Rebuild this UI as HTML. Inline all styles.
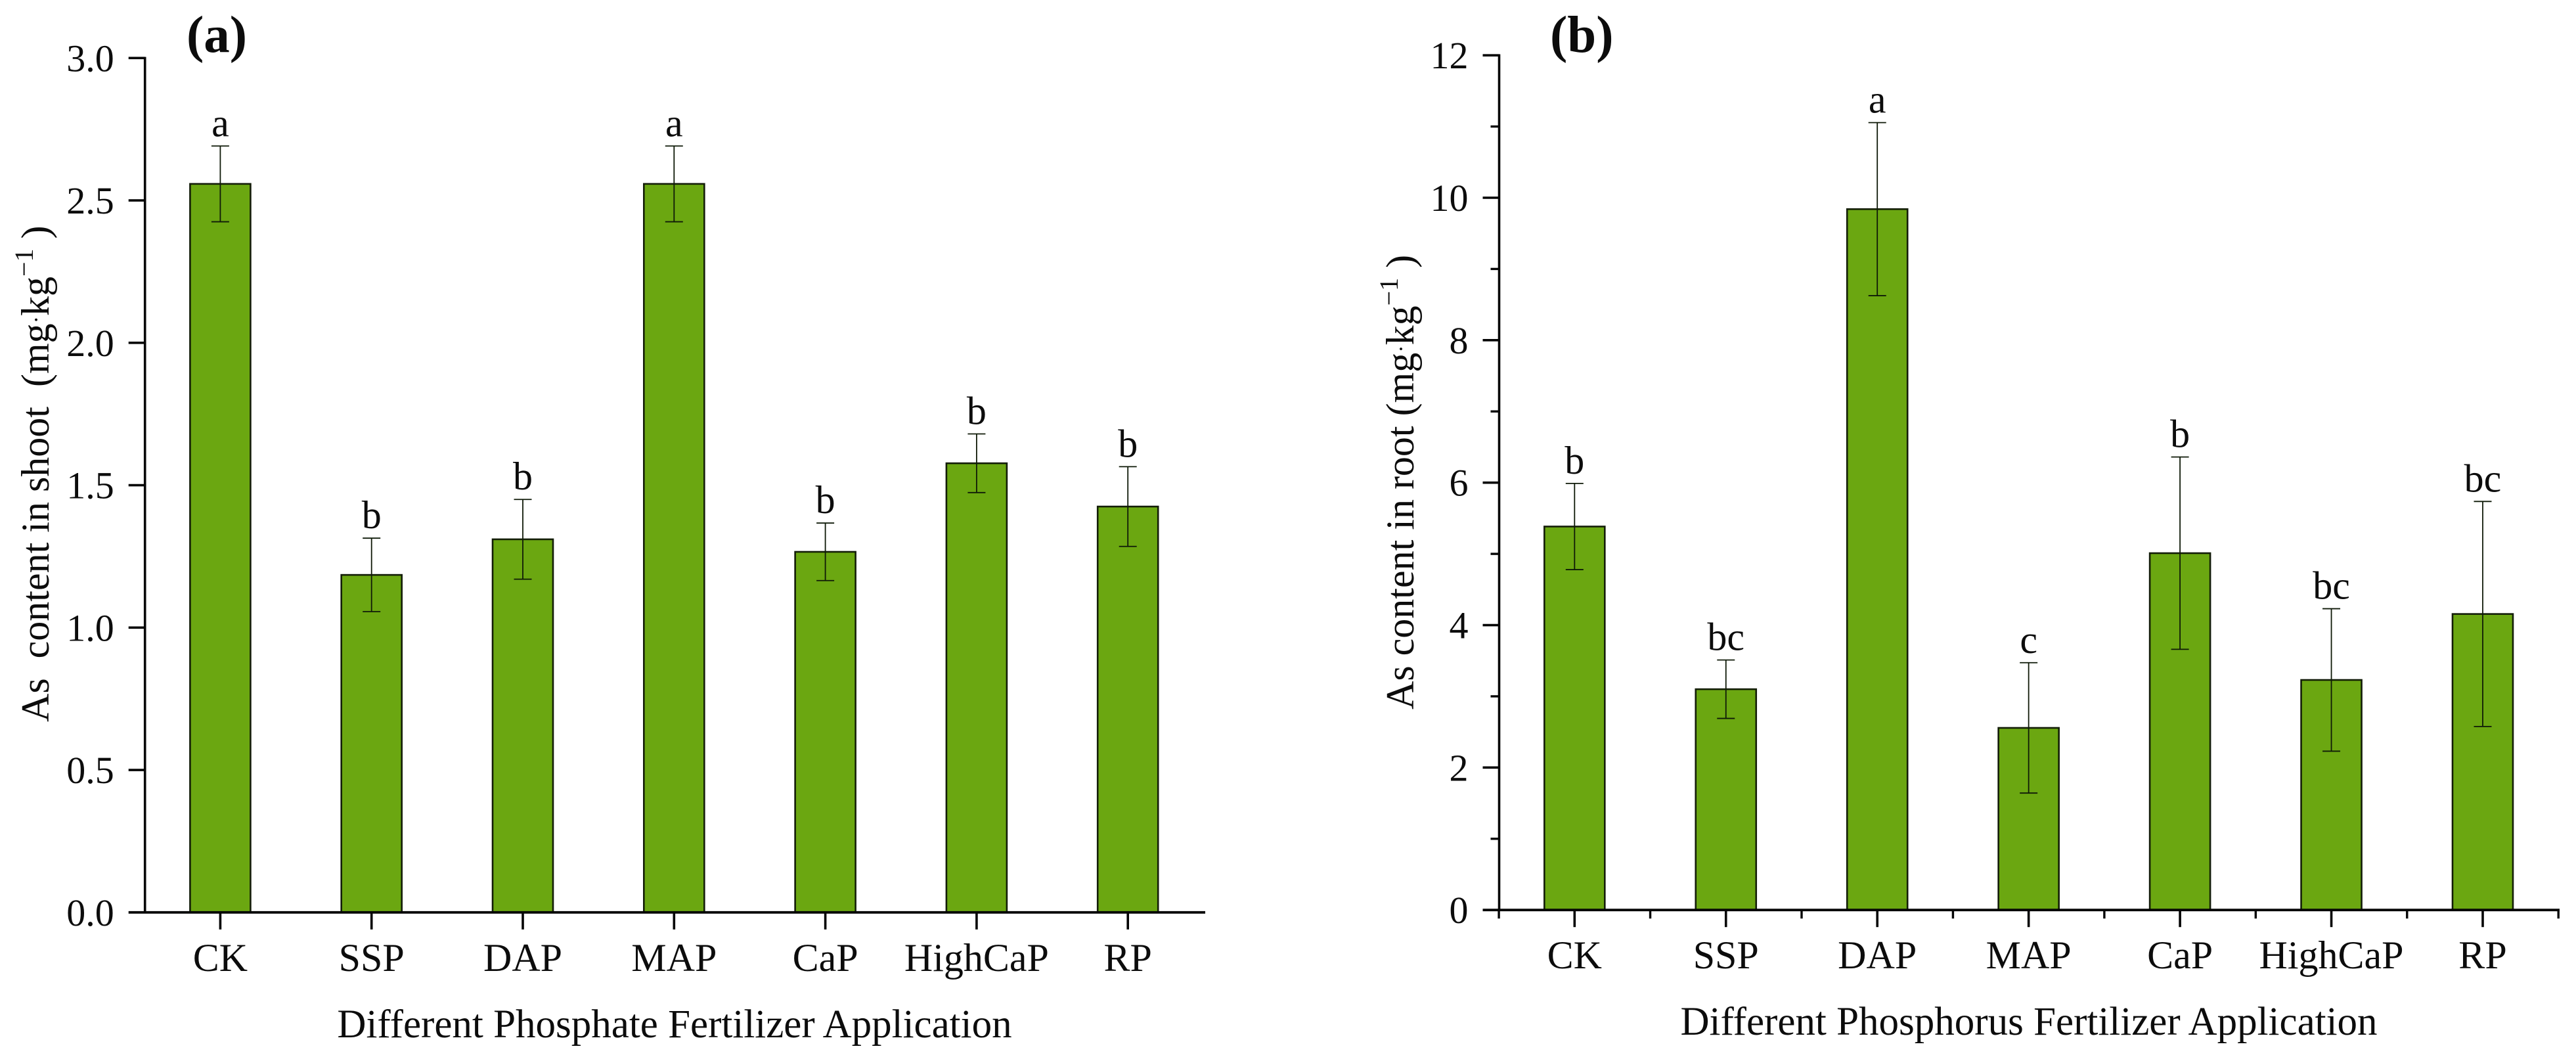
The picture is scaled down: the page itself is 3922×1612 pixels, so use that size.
<!DOCTYPE html>
<html lang="en">
<head>
<meta charset="utf-8">
<title>As content in shoot and root under phosphate fertilizer application</title>
<style>
html,body{margin:0;padding:0;background:#fff;}
svg{display:block;}
text{font-family:"Liberation Serif","Times New Roman",serif;fill:#0c0c0c;}
</style>
</head>
<body>
<svg id="figure" xmlns="http://www.w3.org/2000/svg" width="3922" height="1612" viewBox="0 0 3922 1612">
  <rect x="0" y="0" width="3922" height="1612" fill="#ffffff"/>
  <g id="panel-a">
    <text x="284" y="79" font-size="79" font-weight="bold">(a)</text>
    <text x="1027" y="1579" font-size="61" text-anchor="middle">Different Phosphate Fertilizer Application</text>
    <text transform="translate(74 1099) rotate(-90)" font-size="60" xml:space="preserve">As&#160;&#160;content in shoot&#160;&#160;(mg<tspan font-size="34" dy="-8">·</tspan><tspan dy="8">kg</tspan><tspan font-size="40" dy="-24">−1</tspan><tspan dy="24">&#160;)</tspan></text>
  </g>
  <g id="panel-b">
    <text x="2360" y="79" font-size="79" font-weight="bold">(b)</text>
    <text x="3089" y="1575" font-size="61" text-anchor="middle">Different Phosphorus Fertilizer Application</text>
    <text transform="translate(2152 1080) rotate(-90)" font-size="60" xml:space="preserve">As content in root (mg<tspan font-size="34" dy="-8">·</tspan><tspan dy="8">kg</tspan><tspan font-size="40" dy="-24">−1</tspan><tspan dy="24">&#160;)</tspan></text>
  </g>
</svg>
<script>
const categories = ['CK', 'SSP', 'DAP', 'MAP', 'CaP', 'HighCaP', 'RP'];
const shootValues = [2.558, 1.185, 1.31, 2.558, 1.266, 1.577, 1.425];
const shootErrors = [0.133, 0.129, 0.14, 0.133, 0.101, 0.103, 0.14];
const shootLetters = ['a', 'b', 'b', 'a', 'b', 'b', 'b'];
const shootTicks = ['0.0', '0.5', '1.0', '1.5', '2.0', '2.5', '3.0'];
const rootValues = [5.384, 3.1, 9.84, 2.557, 5.01, 3.23, 4.156];
const rootErrors = [0.605, 0.41, 1.215, 0.915, 1.35, 1.0, 1.58];
const rootLetters = ['b', 'bc', 'a', 'c', 'b', 'bc', 'bc'];
const rootTicks = ['0', '2', '4', '6', '8', '10', '12'];
const rootMinorTicks = [1, 3, 5, 7, 9, 11];

const SVG_NS = 'http://www.w3.org/2000/svg';
const BAR_FILL = '#6ba711';
const BAR_STROKE = '#131d08';
const ERR_STROKE = '#0f1a08';
const AXIS_STROKE = '#050505';

function shape(parent, tag, attrs, content) {
  const el = document.createElementNS(SVG_NS, tag);
  Object.keys(attrs).forEach(function (k) { el.setAttribute(k, attrs[k]); });
  if (content !== undefined) el.textContent = content;
  parent.appendChild(el);
  return el;
}

function makeLine(parent, x1, y1, x2, y2, stroke, width, name) {
  const el = shape(parent, 'line', { x1: x1, y1: y1, x2: x2, y2: y2, stroke: stroke, 'stroke-width': width });
  
  
  return el;
}

function makeText(parent, x, y, anchor, label, size, name) {
  const el = shape(parent, 'text', { x: x, y: y, 'text-anchor': anchor, 'font-size': size }, label);
  
  
  return el;
}

function drawPanel(panel, opts) {
  const parent = document.getElementById(panel);
  const x = function (i) { return opts.firstX + opts.stepX * i; };
  const y = function (v) { return opts.zeroY - opts.pxPerUnit * v; };

  opts.values.forEach(function (value, i) {
    const key = categories[i].toLowerCase();
    const bar = shape(parent, 'rect', {
      x: x(i) - opts.barWidth / 2, y: y(value),
      width: opts.barWidth, height: opts.zeroY - y(value),
      fill: BAR_FILL, stroke: BAR_STROKE, 'stroke-width': 2.6
    });
    
    

    const top = y(value + opts.errors[i]);
    const bottom = y(value - opts.errors[i]);
    makeLine(parent, x(i), top, x(i), bottom, ERR_STROKE, 1.8, 'error-bar-' + key);
    makeLine(parent, x(i) - 13.5, top, x(i) + 13.5, top, ERR_STROKE, 1.8, 'error-cap-top-' + key);
    makeLine(parent, x(i) - 13.5, bottom, x(i) + 13.5, bottom, ERR_STROKE, 1.8, 'error-cap-bottom-' + key);
    makeText(parent, x(i), top - 15, 'middle', opts.letters[i], 60, 'significance-letter-' + key);

    makeLine(parent, x(i), opts.zeroY, x(i), opts.zeroY + 26, AXIS_STROKE, 3.6, 'x-tick-' + key);
    makeText(parent, x(i), opts.zeroY + opts.catLabelOffset, 'middle', categories[i], 60, 'x-tick-label-' + key);
  });

  makeLine(parent, opts.axisX, y(opts.maxValue) - 1.7, opts.axisX, opts.zeroY + 1.7, AXIS_STROKE, 3.6, 'y-axis-line');
  makeLine(parent, opts.axisX - 25, opts.zeroY, opts.axisEndX, opts.zeroY, AXIS_STROKE, 3.8, 'x-axis-line');

  opts.ticks.forEach(function (label) {
    const v = parseFloat(label);
    if (v !== 0) {
      makeLine(parent, opts.axisX - 25, y(v), opts.axisX, y(v), AXIS_STROKE, 3.6, 'y-tick-' + label);
    }
    makeText(parent, opts.axisX - 47, y(v) + 20, 'end', label, 58, 'y-tick-label-' + label);
  });

  opts.minorY.forEach(function (v) {
    makeLine(parent, opts.axisX - 13, y(v), opts.axisX, y(v), AXIS_STROKE, 3.4, 'y-minor-tick-' + v);
  });

  if (opts.minorX) {
    for (let i = 0; i <= categories.length; i++) {
      const mx = x(i - 0.5);
      makeLine(parent, mx, opts.zeroY, mx, opts.zeroY + 13, AXIS_STROKE, 3.4, 'x-minor-tick-' + i);
    }
  }
}

drawPanel('panel-a', {
  values: shootValues, errors: shootErrors, letters: shootLetters, ticks: shootTicks,
  minorY: [], minorX: false, maxValue: 3,
  firstX: 335.4, stepX: 230.3, barWidth: 92, zeroY: 1388.8, pxPerUnit: 433.5,
  axisX: 220.7, axisEndX: 1835, catLabelOffset: 89
});

drawPanel('panel-b', {
  values: rootValues, errors: rootErrors, letters: rootLetters, ticks: rootTicks,
  minorY: rootMinorTicks, minorX: true, maxValue: 12,
  firstX: 2397.3, stepX: 230.45, barWidth: 92, zeroY: 1385.2, pxPerUnit: 108.42,
  axisX: 2282.5, axisEndX: 3897, catLabelOffset: 89
});
</script>
</body>
</html>
